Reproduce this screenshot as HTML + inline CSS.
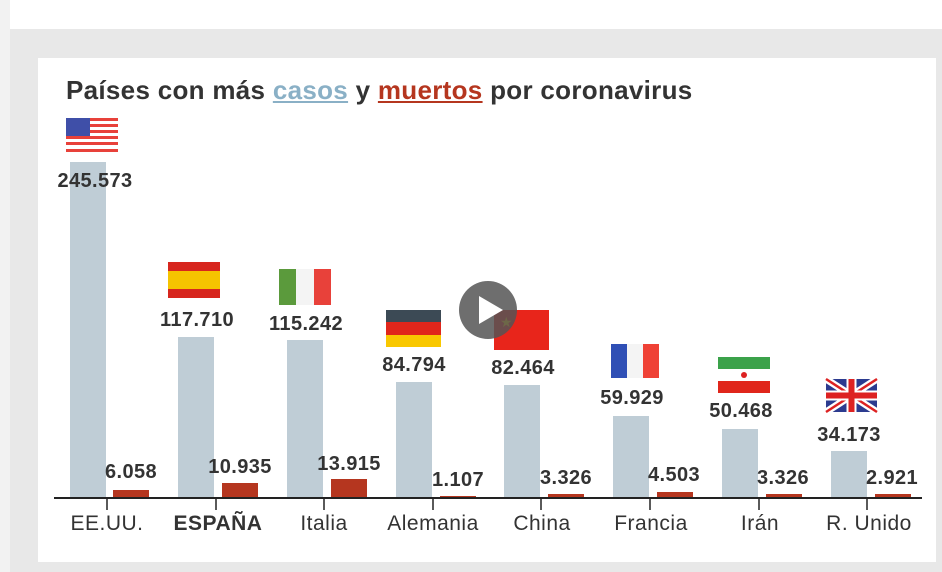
<!DOCTYPE html><html><head><meta charset="utf-8"><style>
body{margin:0;width:942px;height:572px;position:relative;background:#fff;font-family:"Liberation Sans",sans-serif;overflow:hidden}
.a{position:absolute}
.t{position:absolute;transform:translateX(-50%);font-weight:bold;font-size:20px;letter-spacing:0.4px;color:#333;white-space:nowrap;line-height:1}
.c{position:absolute;transform:translateX(-50%);font-size:21px;letter-spacing:0.5px;color:#333;white-space:nowrap;line-height:1;top:513px}
</style></head><body>
<div class="a" style="left:0;top:0;width:10px;height:572px;background:#f2f2f2"></div>
<div class="a" style="left:10px;top:29px;width:932px;height:543px;background:#e8e8e8"></div>
<div class="a" style="left:38px;top:58px;width:898px;height:504px;background:#fff"></div>
<div class="a" style="left:66px;top:75px;font-size:26px;letter-spacing:0.3px;font-weight:bold;color:#333;white-space:nowrap">Países con más <span style="color:#8ab0c6;text-decoration:underline">casos</span> y <span style="color:#b5361f;text-decoration:underline">muertos</span> por coronavirus</div>
<svg class="a" style="left:0;top:0" width="942" height="572">
<g fill="#bfcdd6">
<rect x="70" y="162" width="36" height="336"/><rect x="178" y="337" width="36" height="161"/><rect x="287" y="340" width="36" height="158"/><rect x="396" y="382" width="36" height="116"/><rect x="504" y="385" width="36" height="113"/><rect x="613" y="416" width="36" height="82"/><rect x="722" y="429" width="36" height="69"/><rect x="831" y="451" width="36" height="47"/></g>
<g fill="#b5361f">
<rect x="113" y="490" width="36" height="8"/><rect x="222" y="483" width="36" height="15"/><rect x="331" y="479" width="36" height="19"/><rect x="440" y="496" width="36" height="2"/><rect x="548" y="494" width="36" height="4"/><rect x="657" y="492" width="36" height="6"/><rect x="766" y="494" width="36" height="4"/><rect x="875" y="494" width="36" height="4"/></g>
<line x1="54" y1="498" x2="922" y2="498" stroke="#222" stroke-width="2"/>
<g stroke="#222" stroke-width="1.5"><line x1="107" y1="498" x2="107" y2="510"/><line x1="216" y1="498" x2="216" y2="510"/><line x1="324" y1="498" x2="324" y2="510"/><line x1="433" y1="498" x2="433" y2="510"/><line x1="541" y1="498" x2="541" y2="510"/><line x1="650" y1="498" x2="650" y2="510"/><line x1="759" y1="498" x2="759" y2="510"/><line x1="867" y1="498" x2="867" y2="510"/></g>
<g transform="translate(66,118)"><rect width="52" height="34" fill="#fff"/><g fill="#e8413a"><rect y="0" width="52" height="3"/><rect y="6" width="52" height="3"/><rect y="12" width="52" height="3"/><rect y="18" width="52" height="3"/><rect y="24" width="52" height="3"/><rect y="31" width="52" height="3"/></g><rect width="24" height="18" fill="#3f4fa8"/></g>
<g transform="translate(168,262)"><rect width="52" height="36" fill="#d7261e"/><rect y="9" width="52" height="18" fill="#f5c400"/></g>
<g transform="translate(279,269)"><rect width="17" height="36" fill="#5b9a3c"/><rect x="17" width="18" height="36" fill="#f4f4f4"/><rect x="35" width="17" height="36" fill="#e8413a"/></g>
<g transform="translate(386,310)"><rect width="55" height="12" fill="#3c4a55"/><rect y="12" width="55" height="13" fill="#e0261b"/><rect y="25" width="55" height="12" fill="#f9c800"/></g>
<g transform="translate(494,310)"><rect width="55" height="40" fill="#e8251b"/><text x="6" y="17" font-size="14" fill="#f9d000">★</text></g>
<g transform="translate(611,344)"><rect width="16" height="34" fill="#2f4fb5"/><rect x="16" width="16" height="34" fill="#f4f4f4"/><rect x="32" width="16" height="34" fill="#ef4135"/></g>
<g transform="translate(718,357)"><rect width="52" height="12" fill="#3ba24a"/><rect y="12" width="52" height="12" fill="#fff"/><rect y="24" width="52" height="12" fill="#e0261b"/><circle cx="26" cy="18" r="3" fill="#d22"/></g>
<g transform="translate(826,379)"><rect width="51" height="33" fill="#2c3b8f"/><path d="M0 0L51 33M51 0L0 33" stroke="#fff" stroke-width="7"/><path d="M0 0L51 33M51 0L0 33" stroke="#d22" stroke-width="2.5"/><path d="M25.5 0V33M0 16.5H51" stroke="#fff" stroke-width="10"/><path d="M25.5 0V33M0 16.5H51" stroke="#d22" stroke-width="6"/></g>
<circle cx="488" cy="310" r="29" fill="#555" fill-opacity="0.85"/>
<path d="M479 296L503 310L479 324Z" fill="#fff"/>
</svg>
<div class="t" style="left:95px;top:171px">245.573</div>
<div class="t" style="left:197px;top:310px">117.710</div>
<div class="t" style="left:306px;top:314px">115.242</div>
<div class="t" style="left:414px;top:355px">84.794</div>
<div class="t" style="left:523px;top:358px">82.464</div>
<div class="t" style="left:632px;top:388px">59.929</div>
<div class="t" style="left:741px;top:401px">50.468</div>
<div class="t" style="left:849px;top:425px">34.173</div>
<div class="t" style="left:131px;top:462px">6.058</div>
<div class="t" style="left:240px;top:457px">10.935</div>
<div class="t" style="left:349px;top:454px">13.915</div>
<div class="t" style="left:458px;top:470px">1.107</div>
<div class="t" style="left:566px;top:468px">3.326</div>
<div class="t" style="left:674px;top:465px">4.503</div>
<div class="t" style="left:783px;top:468px">3.326</div>
<div class="t" style="left:892px;top:468px">2.921</div>
<div class="c" style="left:107px">EE.UU.</div>
<div class="c" style="left:218px;font-weight:bold">ESPAÑA</div>
<div class="c" style="left:324px">Italia</div>
<div class="c" style="left:433px">Alemania</div>
<div class="c" style="left:542px">China</div>
<div class="c" style="left:651px">Francia</div>
<div class="c" style="left:760px">Irán</div>
<div class="c" style="left:869px">R. Unido</div>
</body></html>
